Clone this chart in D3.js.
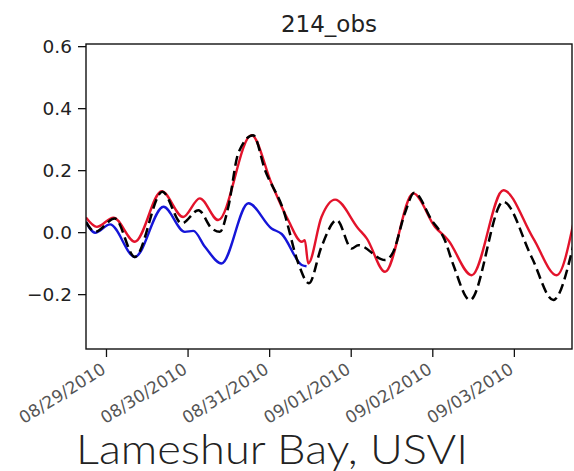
<!DOCTYPE html>
<html>
<head>
<meta charset="utf-8">
<script src="https://cdn.jsdelivr.net/npm/d3@7"></script>
<style>
  body { margin: 0; background: #fff; }
  svg { display: block; }
</style>
</head>
<body>
<div id="chart"></div>
<script>
// hours after 2010-08-29 00:00 and values
const redHours = [-5.9, -2.7, 2.2, 8.5, 16.4, 22.7, 27.6, 33.0, 42.8, 48.7, 53.6, 57.6, 58.5, 59.5, 63.4, 67.4, 74.2, 76.7, 82.1, 90.4, 96.8, 100.7, 107.6, 116.9, 125.7, 132.6, 137.7];
const redValues = [0.047, 0.017, 0.047, -0.031, 0.132, 0.049, 0.109, 0.039, 0.313, 0.157, 0.039, -0.031, -0.026, -0.101, 0.049, 0.105, 0.012, -0.020, -0.128, 0.125, 0.017, -0.026, -0.139, 0.135, -0.020, -0.139, 0.039];

const blackHours = [-5.9, -3.2, 2.6, 8.5, 16.6, 22.3, 27.2, 31.1, 33.5, 36.0, 38.9, 43.3, 46.8, 52.2, 56.6, 59.7, 63.4, 67.9, 72.3, 74.2, 82.1, 84.5, 87.9, 90.7, 95.8, 99.7, 102.2, 107.1, 116.9, 125.2, 131.6, 137.4];
const blackValues = [0.033, 0.001, 0.044, -0.080, 0.130, 0.028, 0.071, 0.012, 0.001, 0.082, 0.254, 0.313, 0.200, 0.071, -0.101, -0.165, -0.047, 0.039, -0.053, -0.042, -0.090, -0.064, 0.060, 0.127, 0.039, -0.026, -0.106, -0.219, 0.098, -0.080, -0.219, -0.047];

const blueHours = [-5.9, -3.2, 1.2, 8.5, 16.9, 23.2, 25.7, 29.1, 34.0, 41.9, 48.7, 51.7, 57.6, 59.0];
const blueValues = [0.033, -0.002, 0.025, -0.080, 0.082, 0.001, 0.004, -0.047, -0.101, 0.093, 0.012, -0.006, -0.106, -0.110];

const yTicks = [-0.2, 0.0, 0.2, 0.4, 0.6];
const xTickDates = ["2010-08-29", "2010-08-30", "2010-08-31", "2010-09-01", "2010-09-02", "2010-09-03"];
const titleText = "214_obs";
const captionText = "Lameshur Bay, USVI";

const width = 574, height = 471;
const margin = { left: 86, top: 44, right: 2, bottom: 122 };
const base = Date.UTC(2010, 7, 29);
const toDate = h => new Date(base + h * 3600 * 1000);

const svg = d3.select('#chart').append('svg')
    .attr('width', width)
    .attr('height', height);

const x = d3.scaleUtc()
    .domain([toDate(-5.88), toDate(137.1)])
    .range([margin.left, width - margin.right]);
const y = d3.scaleLinear()
    .domain([-0.377, 0.607])
    .range([height - margin.bottom, margin.top]);

svg.append('clipPath').attr('id', 'plot-clip')
    .append('rect')
    .attr('x', margin.left).attr('y', margin.top)
    .attr('width', width - margin.left - margin.right)
    .attr('height', height - margin.top - margin.bottom);

const line = d3.line()
    .x(d => x(toDate(d[0])))
    .y(d => y(d[1]))
    .curve(d3.curveMonotoneX);

const plot = svg.append('g').attr('clip-path', 'url(#plot-clip)');

plot.append('path')
    .datum(d3.zip(redHours, redValues))
    .attr('d', line)
    .attr('fill', 'none')
    .attr('stroke', '#e3132b')
    .attr('stroke-width', 2.4);

plot.append('path')
    .datum(d3.zip(blueHours, blueValues))
    .attr('d', line)
    .attr('fill', 'none')
    .attr('stroke', '#1515d8')
    .attr('stroke-width', 2.4);

plot.append('path')
    .datum(d3.zip(blackHours, blackValues))
    .attr('d', line)
    .attr('fill', 'none')
    .attr('stroke', '#000')
    .attr('stroke-width', 2.5)
    .attr('stroke-dasharray', '10,5');

// axes
const yAxis = svg.append('g')
    .attr('transform', `translate(${margin.left},0)`)
    .call(d3.axisLeft(y).tickValues(yTicks).tickSize(8).tickPadding(6)
        .tickFormat(d => d3.format('.1f')(d).replace('-', '\u2212')));
const xAxis = svg.append('g')
    .attr('transform', `translate(0,${height - margin.bottom})`)
    .call(d3.axisBottom(x).tickValues(xTickDates.map(s => new Date(s + 'T00:00:00Z'))).tickSize(8)
        .tickFormat(d3.utcFormat('%m/%d/%Y')));

[yAxis, xAxis].forEach(g => {
    g.select('.domain').remove();
    g.selectAll('line').attr('stroke', '#111').attr('stroke-width', 1.3);
    g.selectAll('text').attr('font-family', 'DejaVu Sans').attr('fill', '#222');
});
yAxis.selectAll('text').attr('font-size', 18.5).attr('dy', '0.36em');
xAxis.selectAll('text')
    .attr('font-size', 17)
    .attr('fill', '#555')
    .attr('text-anchor', 'end')
    .attr('x', 0)
    .attr('y', 0)
    .attr('dy', '0.71em')
    .attr('transform', 'translate(-6,13) rotate(-32)');

// frame
svg.append('rect')
    .attr('x', margin.left).attr('y', margin.top)
    .attr('width', width - margin.left - margin.right)
    .attr('height', height - margin.top - margin.bottom)
    .attr('fill', 'none')
    .attr('stroke', '#111')
    .attr('stroke-width', 1.4);

svg.append('text')
    .attr('x', (margin.left + width - margin.right) / 2)
    .attr('y', 32)
    .attr('text-anchor', 'middle')
    .attr('font-family', 'DejaVu Sans')
    .attr('font-size', 23)
    .attr('fill', '#222')
    .text(titleText);

svg.append('text')
    .attr('x', 76)
    .attr('y', 464)
    .attr('font-family', 'Lato, sans-serif')
    .attr('font-weight', 300)
    .attr('font-size', 42)
    .attr('textLength', 392)
    .attr('lengthAdjust', 'spacingAndGlyphs')
    .attr('fill', '#222')
    .text(captionText);
</script>
</body>
</html>
